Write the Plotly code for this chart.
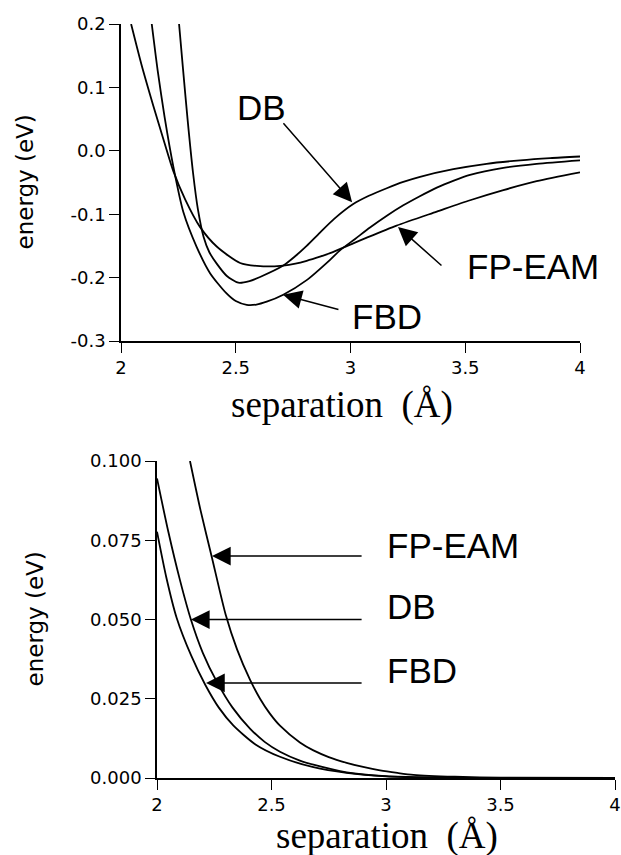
import plotly.graph_objects as go

W, H = 621, 855

# ---------------- Top panel: total pair energy ----------------
top_db_x = [2.253, 2.27, 2.29, 2.314, 2.335, 2.36, 2.385, 2.417, 2.46, 2.511, 2.56, 2.606,
            2.707, 2.76, 2.809, 2.867, 2.93, 3.012, 3.08, 3.158, 3.23, 3.303, 3.448, 3.593, 3.739, 3.87, 4.0]
top_db_y = [0.2, 0.13, 0.05, -0.035, -0.092, -0.136, -0.160, -0.178, -0.197, -0.208, -0.2055, -0.199,
            -0.181, -0.166, -0.150, -0.129, -0.107, -0.084, -0.071, -0.059, -0.049, -0.041, -0.029,
            -0.0205, -0.015, -0.0115, -0.009]

top_fbd_x = [2.134, 2.16, 2.19, 2.228, 2.272, 2.329, 2.388, 2.46, 2.50, 2.548, 2.59, 2.635, 2.707,
             2.809, 2.911, 2.954, 3.02, 3.085, 3.16, 3.23, 3.30, 3.376, 3.45, 3.521, 3.666, 3.811, 4.0]
top_fbd_y = [0.2, 0.126, 0.053, -0.025, -0.097, -0.151, -0.193, -0.225, -0.237, -0.243, -0.2425, -0.238, -0.227,
             -0.204, -0.172, -0.157, -0.139, -0.121, -0.102, -0.086, -0.072, -0.058, -0.047, -0.038,
             -0.027, -0.0205, -0.015]

top_fpeam_x = [2.044, 2.09, 2.14, 2.19, 2.228, 2.28, 2.344, 2.417, 2.519, 2.606, 2.707, 2.76, 2.809, 2.867,
               2.911, 3.012, 3.071, 3.201, 3.376, 3.521, 3.666, 3.811, 4.0]
top_fpeam_y = [0.2, 0.135, 0.072, 0.012, -0.032, -0.077, -0.120, -0.151, -0.177, -0.182, -0.181, -0.178,
               -0.1735, -0.167, -0.1615, -0.146, -0.137, -0.118, -0.096, -0.078, -0.062, -0.048, -0.034]

top_yticks = [-0.3, -0.2, -0.1, 0.0, 0.1, 0.2]
top_yticktext = ["-0.3", "-0.2", "-0.1", "0.0", "0.1", "0.2"]

# ---------------- Bottom panel: repulsive part ----------------
bot_db_x = [2.0, 2.05, 2.1, 2.148, 2.2, 2.261, 2.33, 2.406, 2.47, 2.537, 2.624, 2.683, 2.828, 3.0, 3.2, 3.5, 4.0]
bot_db_y = [0.0945, 0.0775, 0.0625, 0.050, 0.0395, 0.0304, 0.0222, 0.0156, 0.0114, 0.0083, 0.0055, 0.0042,
            0.0018, 0.0006, 0.0002, 0.0, 0.0]

bot_fbd_x = [2.0, 2.04, 2.086, 2.15, 2.21, 2.27, 2.333, 2.43, 2.537, 2.683, 2.828, 3.0, 3.2, 3.5, 4.0]
bot_fbd_y = [0.0777, 0.0635, 0.0505, 0.0385, 0.0295, 0.0222, 0.0166, 0.0106, 0.0067, 0.0034, 0.0016,
             0.0005, 0.0001, 0.0, 0.0]

bot_fpeam_x = [2.144, 2.19, 2.24, 2.30, 2.35, 2.406, 2.45, 2.493, 2.537, 2.624, 2.683, 2.75, 2.828,
               2.9, 2.974, 3.05, 3.12, 3.3, 3.5, 4.0]
bot_fpeam_y = [0.100, 0.0845, 0.0695, 0.0515, 0.0405, 0.0310, 0.0250, 0.0203, 0.0165, 0.0112, 0.0087,
               0.0066, 0.0048, 0.0035, 0.0024, 0.0016, 0.0010, 0.0004, 0.0001, 0.0]

bot_yticks = [0.0, 0.025, 0.05, 0.075, 0.1]
bot_yticktext = ["0.000", "0.025", "0.050", "0.075", "0.100"]

xticks = [2, 2.5, 3, 3.5, 4]
xticktext = ["2", "2.5", "3", "3.5", "4"]

fig = go.Figure()

def add_line(x, y, xa, ya):
    fig.add_trace(go.Scatter(x=x, y=y, mode="lines", xaxis=xa, yaxis=ya,
                             line=dict(color="black", width=1.8, shape="spline", smoothing=0.7),
                             showlegend=False, hoverinfo="skip"))

add_line(top_db_x, top_db_y, "x", "y")
add_line(top_fbd_x, top_fbd_y, "x", "y")
add_line(top_fpeam_x, top_fpeam_y, "x", "y")
add_line(bot_db_x, bot_db_y, "x2", "y2")
add_line(bot_fbd_x, bot_fbd_y, "x2", "y2")
add_line(bot_fpeam_x, bot_fpeam_y, "x2", "y2")

tickfont = dict(family="DejaVu Sans", size=18, color="black")
axcommon = dict(showline=True, linecolor="black", linewidth=1.5, ticks="outside", ticklen=10,
                tickwidth=1.3, tickcolor="black", showgrid=False, zeroline=False, tickfont=tickfont,
                fixedrange=True, automargin=False)

fig.update_layout(
    width=W, height=H, autosize=False,
    margin=dict(l=0, r=0, t=0, b=0, autoexpand=False),
    paper_bgcolor="white", plot_bgcolor="white",
    xaxis=dict(domain=[121 / W, 580 / W], anchor="y", range=[2, 4],
               tickvals=xticks, ticktext=xticktext, **axcommon),
    yaxis=dict(domain=[1 - 341 / H, 1 - 24 / H], anchor="x", range=[-0.3, 0.2],
               tickvals=top_yticks, ticktext=top_yticktext, **axcommon),
    xaxis2=dict(domain=[157 / W, 615 / W], anchor="y2", range=[2, 4],
                tickvals=xticks, ticktext=xticktext, **axcommon),
    yaxis2=dict(domain=[1 - 778 / H, 1 - 461 / H], anchor="x2", range=[0, 0.1],
                tickvals=bot_yticks, ticktext=bot_yticktext, **axcommon),
)

ann = []
label_font = dict(family="Liberation Sans, Arial", size=35, color="black")
arrow_style = dict(showarrow=True, arrowhead=2, arrowsize=2.5, arrowwidth=1.5, arrowcolor="black", text="")

# top panel arrows (tip -> tail in data coords)
for (x, y, ax, ay) in [(3.007, -0.081, 2.702, 0.046),
                       (2.706, -0.227, 2.954, -0.251),
                       (3.207, -0.120, 3.403, -0.183)]:
    ann.append(dict(x=x, y=y, ax=ax, ay=ay, xref="x", yref="y", axref="x", ayref="y", **arrow_style))
for (t, x, y) in [("DB", 2.497, 0.068), ("FBD", 2.998, -0.261), ("FP-EAM", 3.499, -0.183)]:
    ann.append(dict(text=t, x=x, y=y, xref="x", yref="y", xanchor="left", yanchor="middle",
                    showarrow=False, font=label_font))

# bottom panel arrows
for (x, y, ax, ay) in [(2.240, 0.07, 2.9, 0.07),
                       (2.148, 0.05, 2.9, 0.05),
                       (2.214, 0.03, 2.9, 0.03)]:
    ann.append(dict(x=x, y=y, ax=ax, ay=ay, xref="x2", yref="y2", axref="x2", ayref="y2", **arrow_style))
for (t, x, y) in [("FP-EAM", 2.996, 0.0735), ("DB", 2.996, 0.054), ("FBD", 2.996, 0.034)]:
    ann.append(dict(text=t, x=x, y=y, xref="x2", yref="y2", xanchor="left", yanchor="middle",
                    showarrow=False, font=label_font))

# axis titles
ytitle_font = dict(family="DejaVu Sans", size=23, color="black")
xtitle_font = dict(family="Liberation Serif, Times New Roman", size=37, color="black")
ann.append(dict(text="energy (eV)", x=25 / W, y=1 - 182.5 / H, xref="paper", yref="paper",
                textangle=-90, showarrow=False, font=ytitle_font, xanchor="center", yanchor="middle"))
ann.append(dict(text="energy (eV)", x=34 / W, y=1 - 619.5 / H, xref="paper", yref="paper",
                textangle=-90, showarrow=False, font=ytitle_font, xanchor="center", yanchor="middle"))
ann.append(dict(text="separation\u00a0\u00a0(Å)", x=342 / W, y=1 - 405 / H, xref="paper", yref="paper",
                showarrow=False, font=xtitle_font, xanchor="center", yanchor="middle"))
ann.append(dict(text="separation\u00a0\u00a0(Å)", x=387 / W, y=1 - 836 / H, xref="paper", yref="paper",
                showarrow=False, font=xtitle_font, xanchor="center", yanchor="middle"))

fig.update_layout(annotations=ann)

fig.write_html("out.html", config={"displayModeBar": False},
               post_script="document.body.style.margin='0';document.body.style.padding='0';"
                           "document.body.style.overflow='hidden';")
